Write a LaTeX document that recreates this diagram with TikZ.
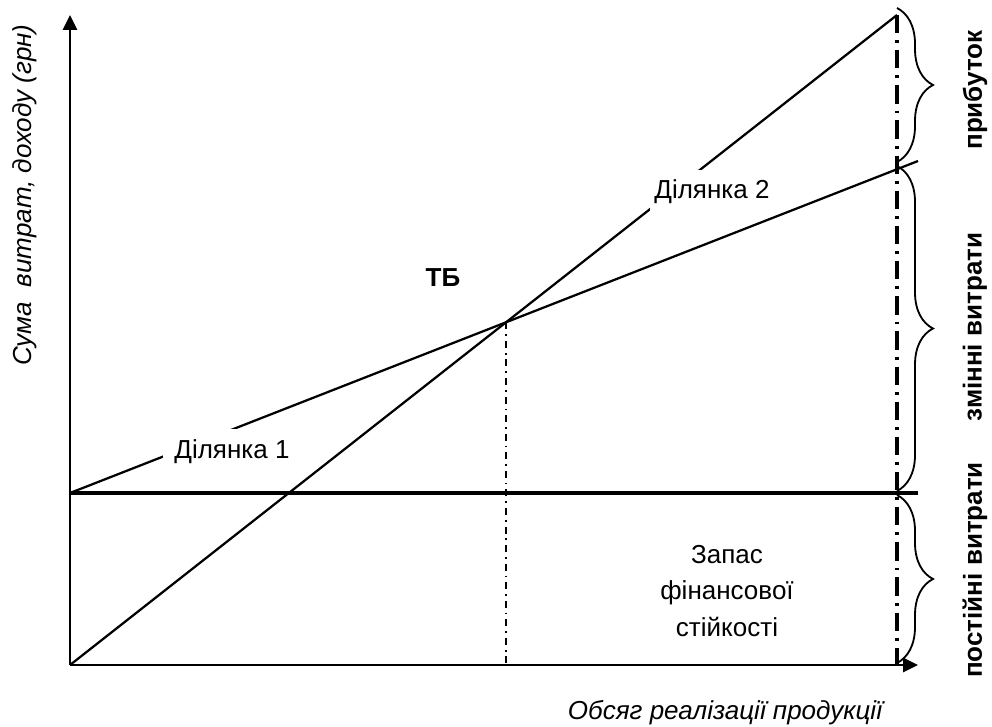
\documentclass[tikz,border=0pt]{standalone}
\usepackage{fontspec}
\setmainfont{Liberation Sans}
\usetikzlibrary{arrows.meta,decorations.pathreplacing}
\tikzset{
    lbl/.style={font=\fontsize{18.5}{26}\selectfont},
    bracelbl/.style={font=\fontsize{18.5}{26}\selectfont\bfseries,rotate=90},
    axis/.style={line width=1.6pt,-{Triangle[length=10.6pt,width=10pt]}},
    brc/.style={line width=1.3pt,decorate,decoration={brace,amplitude=0.9cm}}
}

\begin{document}
\begin{tikzpicture}[x=0.025cm,y=-0.025cm]
                \useasboundingbox (0,0) rectangle (992,727);
                \coordinate (O) at (70,665);
                \coordinate (F) at (70,493);
                \coordinate (R) at (897,15);
                \coordinate (V) at (918,161);
                \coordinate (TB) at (intersection of O--R and F--V);
                % axes
                \draw[axis] (O)--(70,15);
                \draw[axis] (O)--(918,665);
                % cost and revenue lines
                \draw[line width=2.6pt] (F)--(918,493);
                \draw[line width=1.6pt] (F)--(V);
                \draw[line width=1.6pt] (O)--(R);
                \draw[line width=1.1pt,dash pattern=on 5pt off 3.5pt on 1.2pt off 3.5pt] (TB)--(TB|-O);
                \draw[line width=3pt,dash pattern=on 13pt off 5pt on 2pt off 5pt] (R)--(R|-O);
                % braces
                \draw[brc] (897,8)--(897,162);
                \draw[brc] (897,166)--(897,491);
                \draw[brc] (897,495)--(897,663);
                \node[bracelbl] (profit) at (975,90) {прибуток};
                \node[bracelbl] (varcost) at (975,327) {змінні витрати};
                \node[bracelbl] (fixcost) at (975,570) {постійні витрати};
                % labels
                \node[lbl,fill=white,inner sep=8pt] (seg1) at (232,452) {Ділянка 1};
                \node[lbl,fill=white,inner xsep=3pt,inner ysep=7pt] (seg2) at (712,192) {Ділянка 2};
                \node[lbl,font=\fontsize{18.5}{26}\selectfont\bfseries] (tb) at (443,278) {ТБ};
                \node[lbl,align=center] (reserve) at (727,591) {Запас\\фінансової\\стійкості};
                \node[lbl,font=\fontsize{18.5}{26}\selectfont\itshape,rotate=90] (ylab) at (25,195) {Сума\ \ витрат, доходу (грн)};
                \node[lbl,font=\fontsize{18.5}{26}\selectfont\itshape] (xlab) at (725,713) {Обсяг реалізації продукції};
\end{tikzpicture}
\end{document}
